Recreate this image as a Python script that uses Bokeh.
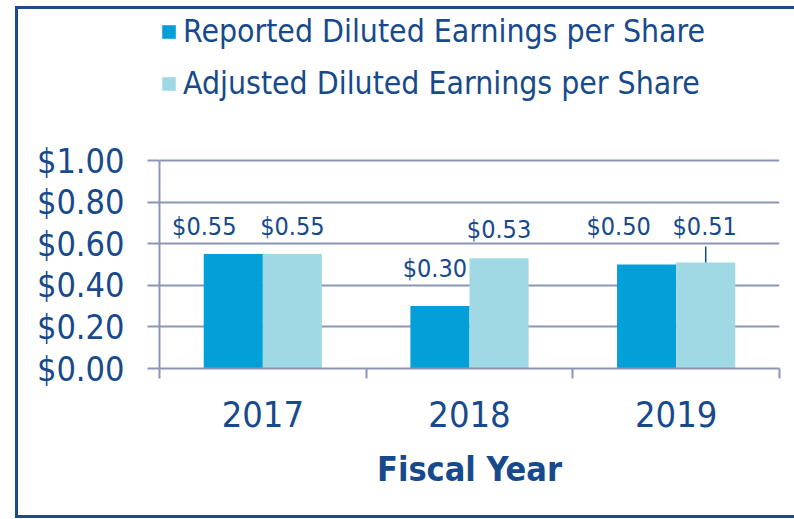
from math import pi
from bokeh.plotting import figure
from bokeh.models import (ColumnDataSource, Range1d, FixedTicker, NumeralTickFormatter,
                          LabelSet, Legend, LegendItem, InlineStyleSheet)
from bokeh.transform import dodge
from bokeh.core.properties import value
from bokeh.embed import file_html
from bokeh.resources import INLINE

# ---- data ----
years = ["2017", "2018", "2019"]
reported = [0.55, 0.30, 0.50]
adjusted = [0.55, 0.53, 0.51]
y_ticks = [0.0, 0.2, 0.4, 0.6, 0.8, 1.0]
series_names = ["Reported Diluted Earnings per Share", "Adjusted Diluted Earnings per Share"]

# ---- label placement (screen px, style only) ----
rep_dx = [-29, -5, -28]
rep_dy = [28, 38, 38]
adj_dx = [0, 0, -1]
adj_dy = [28, 29, 36]
adj_leader = [False, False, True]

FONT = "DejaVu Sans Condensed"
TXT = "#174a8c"
GRID = "#8c95b5"
C_REP = "#039fd9"
C_ADJ = "#a0d9e4"
BW = 0.286

# layout: plot area 0..1 is 208 px tall; the frame reaches up 150 px more to hold the legend
AXIS_PX = 208
FRAME_PX = 358
y_end = y_ticks[-1] * FRAME_PX / AXIS_PX

xc = [i + 0.5 for i in range(len(years))]
src = ColumnDataSource(dict(
    x=xc, reported=reported, adjusted=adjusted,
    rep_txt=["$%.2f" % v for v in reported],
    adj_txt=["$%.2f" % v for v in adjusted],
    rep_dx=rep_dx, rep_dy=rep_dy, adj_dx=adj_dx, adj_dy=adj_dy,
))

p = figure(frame_width=620, frame_height=FRAME_PX,
           min_border_left=159, min_border_right=15, min_border_top=10, min_border_bottom=151,
           x_range=Range1d(0, len(years)), y_range=Range1d(0, y_end),
           output_backend="svg", toolbar_location=None, tools="")
p.outline_line_color = None
p.background_fill_color = "white"
p.border_fill_color = "white"

# axes
xa = p.xaxis[0]
xa.ticker = FixedTicker(ticks=xc, minor_ticks=list(range(len(years) + 1)))
xa.major_label_overrides = {x: y for x, y in zip(xc, years)}
xa.major_tick_line_color = None
xa.major_tick_out = 0
xa.major_tick_in = 0
xa.minor_tick_out = 10
xa.minor_tick_in = 0
xa.minor_tick_line_color = GRID
xa.minor_tick_line_width = 2
xa.axis_line_color = GRID
xa.axis_line_width = 2
xa.major_label_text_font = FONT
xa.major_label_text_font_size = "36px"
xa.major_label_text_color = TXT
xa.major_label_standoff = 22
xa.axis_label = "Fiscal Year"
xa.axis_label_text_font = FONT
xa.axis_label_text_font_size = "34px"
xa.axis_label_text_font_style = "bold"
xa.axis_label_text_color = TXT
xa.axis_label_standoff = 19

ya = p.yaxis[0]
ya.ticker = FixedTicker(ticks=y_ticks, minor_ticks=[])
ya.bounds = (y_ticks[0], y_ticks[-1])
ya.formatter = NumeralTickFormatter(format="$0.00")
ya.major_tick_out = 12
ya.major_tick_in = 0
ya.major_tick_line_color = GRID
ya.major_tick_line_width = 2
ya.axis_line_color = GRID
ya.axis_line_width = 2
ya.major_label_text_font = FONT
ya.major_label_text_font_size = "34px"
ya.major_label_text_color = TXT
ya.major_label_standoff = 23

p.xgrid.grid_line_color = None
p.ygrid.grid_line_color = GRID
p.ygrid.grid_line_width = 2

# bars
r1 = p.vbar(x=dodge("x", -BW / 2), top="reported", width=BW, source=src,
            fill_color=C_REP, line_color=None)
r2 = p.vbar(x=dodge("x", BW / 2), top="adjusted", width=BW, source=src,
            fill_color=C_ADJ, line_color=None)

# leader line
lx = [x + BW / 2 for x, f in zip(xc, adj_leader) if f]
ly = [v for v, f in zip(adjusted, adj_leader) if f]
p.ray(x=lx, y=ly, length=16, length_units="screen", angle=pi / 2,
      line_color=TXT, line_width=1.5)

# value labels
for col, dxc, dyc, off in (("rep_txt", "rep_dx", "rep_dy", -BW / 2),
                           ("adj_txt", "adj_dx", "adj_dy", BW / 2)):
    ycol = "reported" if col == "rep_txt" else "adjusted"
    p.add_layout(LabelSet(x=dodge("x", off), y=ycol, text=col, source=src,
                          x_offset=dxc, y_offset=dyc,
                          text_align="center", text_baseline="middle",
                          text_font=value(FONT), text_font_size="25px", text_color=TXT))

# legend (inside the upper part of the frame)
legend = Legend(items=[LegendItem(label=series_names[0], renderers=[r1]),
                       LegendItem(label=series_names[1], renderers=[r2])],
                location=(1, 267), orientation="vertical",
                glyph_width=17, glyph_height=17, label_height=34, spacing=16,
                label_standoff=6, padding=0, margin=0,
                label_text_font=FONT, label_text_font_size="31.7px",
                label_text_color=TXT, background_fill_alpha=0,
                border_line_color=None)
p.add_layout(legend, "center")

# outer frame of the slide panel (right side runs off the page)
p.stylesheets = [InlineStyleSheet(css="""
:host::after { content: ''; position: absolute; left: 15px; top: 6px; width: 779px; height: 512px;
  border: 3px solid #1b4b8c; border-right: none; box-sizing: border-box; pointer-events: none; }
""")]

open("out.html", "w").write(file_html(p, INLINE))
